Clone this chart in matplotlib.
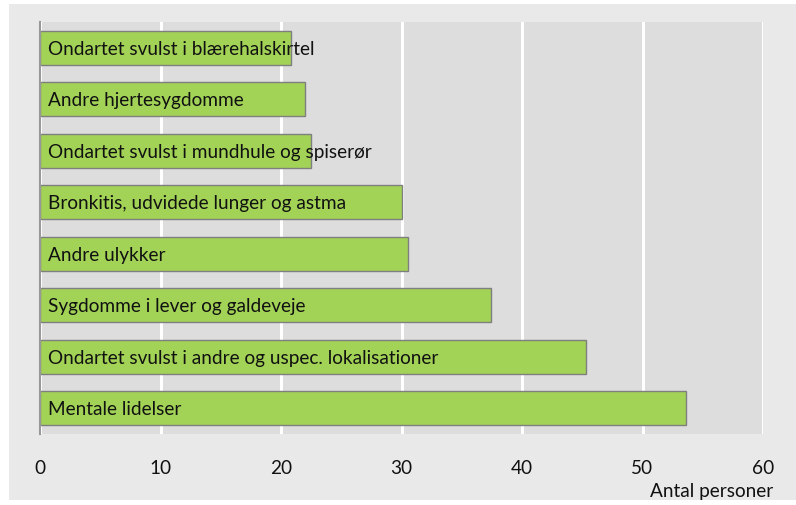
import matplotlib.pyplot as plt
from matplotlib.patches import Rectangle

# Data
categories = [
    "Ondartet svulst i blærehalskirtel",
    "Andre hjertesygdomme",
    "Ondartet svulst i mundhule og spiserør",
    "Bronkitis, udvidede lunger og astma",
    "Andre ulykker",
    "Sygdomme i lever og galdeveje",
    "Ondartet svulst i andre og uspec. lokalisationer",
    "Mentale lidelser",
]
values = [20.8, 22.0, 22.5, 30.0, 30.5, 37.4, 45.3, 53.6]
xticks = [0, 10, 20, 30, 40, 50, 60]

plt.rcParams['font.family'] = ['Lato', 'DejaVu Sans']

W, H = 796, 505
fig = plt.figure(figsize=(W / 100, H / 100), dpi=100)
fig.patch.set_facecolor('white')

# light grey panel behind everything
fig.patches.append(Rectangle((9 / W, 1 - 500 / H), (W - 9) / W, 496 / H,
                             transform=fig.transFigure, facecolor='#e9e9e9',
                             edgecolor='none', zorder=-5))

ax = fig.add_axes([40 / W, 1 - 434 / H, (763 - 40) / W, (434 - 22) / H])
ax.set_facecolor('#dddddd')

pos = list(range(len(categories)))
ax.barh(pos, values, height=0.66, color='#a2d356', edgecolor='#7f7f7f',
        linewidth=1.0, zorder=3)
for p, c in zip(pos, categories):
    ax.text(0.7, p + 0.03, c, va='center', ha='left', fontsize=13.7,
            color='#111111', zorder=4)

ax.set_xlim(0, 60)
ax.set_ylim(len(categories) - 0.5, -0.5)
ax.set_yticks([])
ax.set_xticks(xticks)
ax.set_xticklabels([str(t) for t in xticks], fontsize=13.7, color='#111111')
ax.tick_params(axis='x', length=0, pad=19)
ax.grid(axis='x', color='white', linewidth=2.2, zorder=1)
ax.set_axisbelow(True)

for s in ['top', 'right', 'bottom']:
    ax.spines[s].set_visible(False)
ax.spines['left'].set_color('#999999')
ax.spines['left'].set_linewidth(1.5)
ax.spines['left'].set_zorder(5)

fig.text(773 / W, 1 - 492 / H, "Antal personer", ha='right', va='center',
         fontsize=13.7, color='#111111')

fig.savefig('out.png', dpi=100)
